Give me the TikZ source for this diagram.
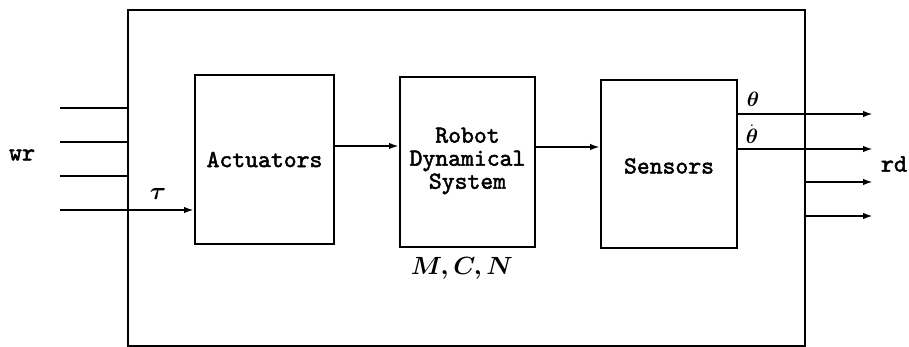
\documentclass[tikz,border=0pt]{standalone}
\usepackage{amsmath}
\usepackage{fontspec}
\newfontfamily\ttb{lmmono10-regular.otf}[FakeBold=2]
\usetikzlibrary{arrows.meta}
\begin{document}
\begin{tikzpicture}[x=1pt,y=-1pt,
  ln/.style={line width=2pt},
  arr/.style={line width=2pt,-{Latex[length=10pt,width=6.5pt]}},
  blk/.style={draw,line width=2pt,inner sep=0pt,anchor=north west},
  lbl/.style={font=\fontsize{24.5}{23}\selectfont\ttb,align=center},
  io/.style={font=\fontsize{25}{26}\selectfont\ttb},
  mth/.style={inner sep=0.5pt}]
\useasboundingbox (0,0) rectangle (909,347);
% outer box
\node[blk,minimum width=677pt,minimum height=336pt] (outer) at (127,9) {};
% blocks
\node[blk,minimum width=139pt,minimum height=169pt] (act) at (194,74) {};
\node[lbl] at (act.center) {Actuators};
\node[blk,minimum width=135pt,minimum height=170pt] (rob) at (399,76) {};
\node[lbl] at ([yshift=1pt]rob.center) {Robot\\Dynamical\\System};
\node[blk,minimum width=136pt,minimum height=168pt] (sen) at (600,79) {};
\node[lbl] at ([yshift=-2pt]sen.center) {Sensors};
% connectors between blocks
\coordinate (a1) at (333,146);
\coordinate (s1) at (534,147);
\draw[arr] (a1) -- (rob.west |- a1);
\draw[arr] (s1) -- (sen.west |- s1);
% left inputs
\coordinate (l1) at (60,108);
\coordinate (l2) at (60,142);
\coordinate (l3) at (60,176);
\coordinate (l4) at (60,210);
\draw[ln] (l1) -- (outer.west |- l1);
\draw[ln] (l2) -- (outer.west |- l2);
\draw[ln] (l3) -- (outer.west |- l3);
\draw[arr] (l4) -- (act.west |- l4);
\node[mth,font=\fontsize{24}{26}\selectfont] (tau) at (158,194) {$\boldsymbol{\tau}$};
\node[io] (wr) at (22,155) {wr};
% right outputs
\coordinate (r1) at (873,114);
\coordinate (r2) at (873,149);
\coordinate (r3) at (873,182);
\coordinate (r4) at (873,216);
\draw[arr] (sen.east |- r1) -- (r1);
\draw[arr] (sen.east |- r2) -- (r2);
\draw[arr] (outer.east |- r3) -- (r3);
\draw[arr] (outer.east |- r4) -- (r4);
\node[mth,font=\fontsize{22}{24}\selectfont] (th) at (753,99) {$\boldsymbol{\theta}$};
\node[mth,font=\fontsize{22}{24}\selectfont] (thd) at (752,134) {$\dot{\boldsymbol{\theta}}$};
\node[io] (rd) at (894,164) {rd};
% M,C,N
\node[mth,font=\fontsize{23.5}{26}\selectfont] (mcn) at (462,268) {$\boldsymbol{M,C,N}$};
\end{tikzpicture}
\end{document}
